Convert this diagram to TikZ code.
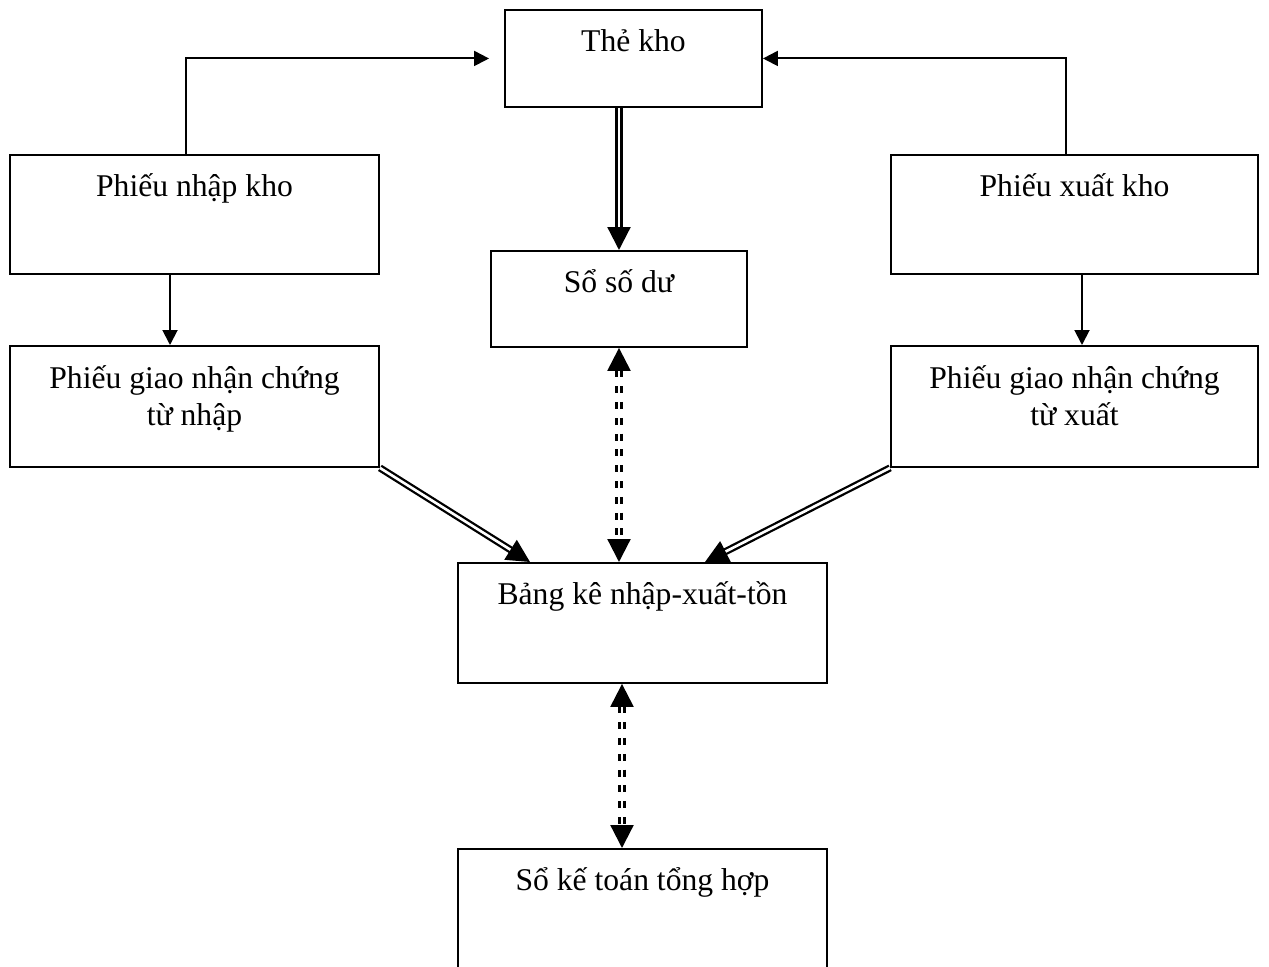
\documentclass[tikz,border=0pt]{standalone}
\usepackage{fontspec}
\setmainfont{Liberation Serif}
\usetikzlibrary{arrows.meta}
\tikzstyle{box} = [rectangle, draw, line width=1.1pt, anchor=north, inner sep=0pt, align=center, font=\fontsize{18}{21.6}\selectfont, text height=0.84cm]
\tikzstyle{flow} = [-{Triangle[length=0.3cm,width=0.3cm]}, line width=1.1pt]
\tikzstyle{dbl} = [-{Triangle[length=0.46cm,width=0.46cm]}, line width=1.3pt, double, double distance=1.5pt]
\tikzstyle{dashdbl} = [{Triangle[length=0.46cm,width=0.46cm]}-{Triangle[length=0.46cm,width=0.46cm]}, line width=1.3pt, double, double distance=1.5pt, dash pattern=on 4pt off 5pt]

\begin{document}
\begin{tikzpicture}[x=0.02cm,y=-0.02cm]
  \clip (0,0) rectangle (1269,967);
  \node[box, minimum width=5.14cm, text depth=1.10cm] (thekho) at (633.5,9) {Thẻ kho};
  \node[box, minimum width=7.38cm, text depth=1.54cm] (nhapkho) at (194.5,154) {Phiếu nhập kho};
  \node[box, minimum width=7.34cm, text depth=1.54cm] (xuatkho) at (1074.5,154) {Phiếu xuất kho};
  \node[box, minimum width=5.12cm, text depth=1.08cm] (sodu) at (619,250) {Sổ số dư};
  \node[box, minimum width=7.38cm, text height=1.60cm, text depth=0.82cm] (gnnhap) at (194.5,345) {Phiếu giao nhận chứng\\từ nhập};
  \node[box, minimum width=7.34cm, text height=1.60cm, text depth=0.82cm] (gnxuat) at (1074.5,345) {Phiếu giao nhận chứng\\từ xuất};
  \node[box, minimum width=7.38cm, text depth=1.56cm] (bangke) at (642.5,562) {Bảng kê nhập-xuất-tồn};
  \node[box, minimum width=7.38cm, text depth=1.66cm] (sokt) at (642.5,848) {Sổ kế toán tổng hợp};

  % phieu -> the kho
  \draw[flow] ([xshift=-0.17cm]nhapkho.north) |- ([xshift=-0.3cm]thekho.west);
  \draw[flow] ([xshift=-0.17cm]xuatkho.north) |- (thekho.east);
  \draw[dbl] (thekho.south -| sodu.north) -- (sodu.north);

  % phieu -> giao nhan
  \draw[flow] ([xshift=-0.49cm]nhapkho.south) -- ([xshift=-0.49cm]gnnhap.north);
  \draw[flow] ([xshift=0.15cm]xuatkho.south) -- ([xshift=0.15cm]gnxuat.north);

  % tong hop
  \draw[dbl] (gnnhap.south east) -- ([xshift=-2.25cm]bangke.north);
  \draw[dbl] (gnxuat.south west) -- ([xshift=1.25cm]bangke.north);
  \draw[dashdbl] (sodu.south) -- (sodu.south |- bangke.north);
  \draw[dashdbl] ([xshift=-0.41cm]bangke.south) -- ([xshift=-0.41cm]sokt.north);
\end{tikzpicture}
\end{document}
